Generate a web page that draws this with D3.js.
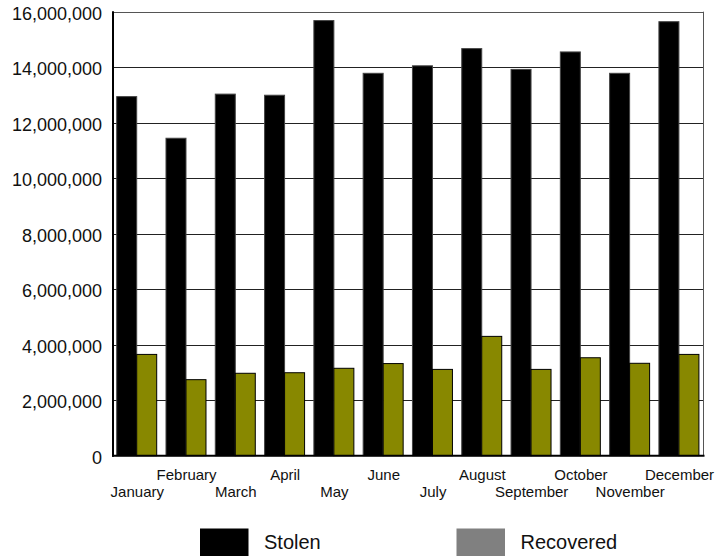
<!DOCTYPE html>
<html>
<head>
<meta charset="utf-8">
<script src="https://cdn.jsdelivr.net/npm/d3@7"></script>
<style>
  html, body { margin: 0; padding: 0; background: #fff; }
  svg { display: block; font-family: "Liberation Sans", Arial, sans-serif; }
</style>
</head>
<body>
<svg id="chart" width="723" height="556"></svg>
<script>
const months = ["January","February","March","April","May","June","July","August","September","October","November","December"];
const seriesNames = ["Stolen","Recovered"];
const stolen = [12940000,11440000,13030000,12990000,15680000,13780000,14050000,14670000,13920000,14550000,13780000,15640000];
const recovered = [3650000,2740000,2970000,2990000,3150000,3320000,3110000,4300000,3110000,3530000,3330000,3650000];
const yTicks = [0,2000000,4000000,6000000,8000000,10000000,12000000,14000000,16000000];
const legendLabels = ["Stolen","Recovered"];

(function () {
const svg = d3.select("#chart");
const pLeft = 113, pRight = 703, pTop = 11.7, pBottom = 455.7;

const x = d3.scaleBand().domain(months).range([pLeft, 704.5]);
const x1 = d3.scaleBand().domain(seriesNames).range([3.7, 43.7]);
const y = d3.scaleLinear().domain([0, 16000000]).range([pBottom, pTop]);

// gridlines
svg.append("g").selectAll("line").data(yTicks.filter(d => d > 0 && d < 16000000)).join("line")
  .attr("x1", pLeft).attr("x2", pRight)
  .attr("y1", d => Math.round(y(d)) + 0.5).attr("y2", d => Math.round(y(d)) + 0.5)
  .attr("stroke", "#222").attr("stroke-width", 1);

// top & right frame
svg.append("line").attr("x1", pLeft).attr("x2", pRight).attr("y1", Math.round(y(16000000)) + 0.5).attr("y2", Math.round(y(16000000)) + 0.5)
  .attr("stroke", "#555").attr("stroke-width", 1);
svg.append("line").attr("x1", pRight + 0.5).attr("x2", pRight + 0.5).attr("y1", pTop).attr("y2", pBottom)
  .attr("stroke", "#555").attr("stroke-width", 1);

// bars
const data = months.map((m, i) => ({ month: m, values: [
  { key: "Stolen", v: stolen[i] },
  { key: "Recovered", v: recovered[i] }
]}));
const colors = { Stolen: "#000000", Recovered: "#888800" };

const groups = svg.append("g").selectAll("g").data(data).join("g")
  .attr("transform", d => `translate(${x(d.month)},0)`);
groups.selectAll("rect").data(d => d.values).join("rect")
  .attr("x", d => x1(d.key))
  .attr("width", x1.bandwidth())
  .attr("y", d => y(d.v))
  .attr("height", d => pBottom - y(d.v))
  .attr("fill", d => colors[d.key])
  .attr("stroke", d => d.key === "Stolen" ? "#444" : "#000")
  .attr("stroke-width", 1);

// axes lines
svg.append("line").attr("x1", pLeft).attr("x2", pLeft).attr("y1", pTop - 0.5).attr("y2", pBottom + 1)
  .attr("stroke", "#000").attr("stroke-width", 2);
svg.append("line").attr("x1", pLeft - 1).attr("x2", pRight + 1.5).attr("y1", pBottom).attr("y2", pBottom)
  .attr("stroke", "#000").attr("stroke-width", 2);

// y tick labels
const fmt = d3.format(",");
svg.append("g").selectAll("text").data(yTicks).join("text")
  .attr("x", 102).attr("y", d => y(d))
  .attr("dy", "0.45em")
  .attr("text-anchor", "end")
  .attr("font-size", 18)
  .attr("fill", "#111")
  .text(d => fmt(d));

// x labels (staggered)
svg.append("g").selectAll("text").data(months).join("text")
  .attr("x", d => x(d) + 24.3)
  .attr("y", (d, i) => i % 2 === 0 ? 497.3 : 479.5)
  .attr("text-anchor", "middle")
  .attr("font-size", 15)
  .attr("fill", "#111")
  .text(d => d);

// legend
const legendColors = ["#000000", "#808080"];
const legendX = [200, 456.5];
const lg = svg.append("g").selectAll("g").data(legendLabels).join("g")
  .attr("transform", (d, i) => `translate(${legendX[i]},0)`);
lg.append("rect").attr("x", 0).attr("y", 528.5).attr("width", 48.5).attr("height", 40)
  .attr("fill", (d, i) => legendColors[i]);
lg.append("text").attr("x", 64).attr("y", 549.3).attr("font-size", 20).attr("fill", "#111").text(d => d);
})();
</script>
</body>
</html>
